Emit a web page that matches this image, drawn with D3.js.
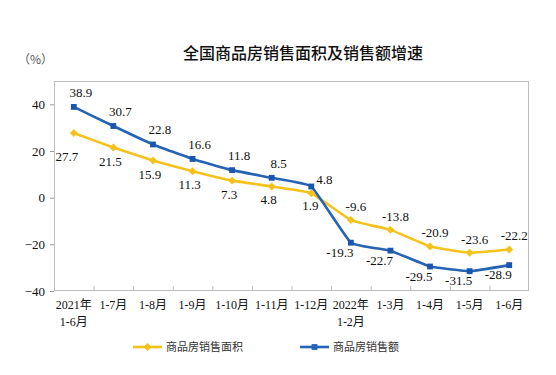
<!DOCTYPE html>
<html>
<head>
<meta charset="utf-8">
<script src="https://cdn.jsdelivr.net/npm/d3@7"></script>
<style>
  body { margin: 0; background: #fff; }
  svg { display: block; }
</style>
</head>
<body>
<script>
const width = 556;
const height = 375;
const margin = { l: 54, r: 27, t: 81, b: 84 };

const months = [
  ["2021年", "1-6月"], ["1-7月"], ["1-8月"], ["1-9月"], ["1-10月"], ["1-11月"],
  ["1-12月"], ["2022年", "1-2月"], ["1-3月"], ["1-4月"], ["1-5月"], ["1-6月"]
];
const areaGrowth = [27.7, 21.5, 15.9, 11.3, 7.3, 4.8, 1.9, -9.6, -13.8, -20.9, -23.6, -22.2];
const salesGrowth = [38.9, 30.7, 22.8, 16.6, 11.8, 8.5, 4.8, -19.3, -22.7, -29.5, -31.5, -28.9];
const yTicks = [-40, -20, 0, 20, 40];
const seriesNames = ["商品房销售面积", "商品房销售额"];

const colors = { area: "#F5C21B", sales: "#2563B3", salesMark: "#1A56B0" };

const svg = d3.select("body").append("svg")
  .attr("width", width)
  .attr("height", height);

const x = d3.scaleBand()
  .domain(d3.range(months.length))
  .range([margin.l, width - margin.r]);
const y = d3.scaleLinear()
  .domain([-40, 50])
  .range([height - margin.b, margin.t]);
const cx = (i) => x(i) + x.bandwidth() / 2;

// title and unit
svg.append("text")
  .attr("x", 303).attr("y", 59)
  .attr("text-anchor", "middle")
  .style("font-family", "'Noto Sans CJK SC'")
  .style("font-size", "16px")
  .style("font-weight", 500)
  .style("fill", "#111")
  .text("全国商品房销售面积及销售额增速");

svg.append("text")
  .attr("x", 18).attr("y", 64)
  .style("font-family", "'Noto Sans CJK SC'")
  .style("font-size", "12px")
  .style("fill", "#555")
  .text("（%）");

// frame
svg.append("rect")
  .attr("x", margin.l + 0.5).attr("y", margin.t + 0.5)
  .attr("width", width - margin.l - margin.r - 1)
  .attr("height", height - margin.t - margin.b - 1)
  .style("fill", "none")
  .style("stroke", "#bdbdbd");

// y axis
const yAxis = svg.append("g")
  .attr("transform", `translate(${margin.l},0)`)
  .call(d3.axisLeft(y).tickValues(yTicks).tickSize(4).tickPadding(5));
yAxis.select(".domain").remove();
yAxis.selectAll("line").style("stroke", "#999");
yAxis.selectAll("text")
  .style("font-family", "'Liberation Serif'")
  .style("font-size", "13px")
  .style("fill", "#111");

// x axis ticks at band boundaries, pointing up
const xTickPos = d3.range(1, months.length).map((i) => x(i));
svg.append("g").selectAll("line")
  .data(xTickPos)
  .join("line")
  .attr("x1", (d) => d + 0.5).attr("x2", (d) => d + 0.5)
  .attr("y1", height - margin.b).attr("y2", height - margin.b - 5)
  .style("stroke", "#bdbdbd");

const xLabels = svg.append("g");
months.forEach((m, i) => {
  const t = xLabels.append("text")
    .attr("text-anchor", "middle")
    .style("font-family", "'Liberation Serif', 'Noto Sans CJK SC'")
    .style("font-size", "12px")
    .style("fill", "#111");
  m.forEach((line, k) => {
    t.append("tspan")
      .attr("x", cx(i))
      .attr("y", height - margin.b + 18 + k * 17)
      .text(line);
  });
});

// lines
const line = d3.line()
  .x((d, i) => cx(i))
  .y((d) => y(d))
  .curve(d3.curveCardinal.tension(0.7));

svg.append("path")
  .datum(areaGrowth)
  .attr("d", line)
  .style("fill", "none")
  .style("stroke", colors.area)
  .style("stroke-width", 2.6);

svg.append("path")
  .datum(salesGrowth)
  .attr("d", line)
  .style("fill", "none")
  .style("stroke", colors.sales)
  .style("stroke-width", 2.6);

// markers
const diamond = d3.symbol().type(d3.symbolDiamond2).size(40);
const square = d3.symbol().type(d3.symbolSquare).size(34);

svg.append("g").selectAll("path")
  .data(areaGrowth)
  .join("path")
  .attr("transform", (d, i) => `translate(${cx(i)},${y(d)})`)
  .attr("d", diamond)
  .style("fill", colors.area);

svg.append("g").selectAll("path")
  .data(salesGrowth)
  .join("path")
  .attr("transform", (d, i) => `translate(${cx(i)},${y(d)})`)
  .attr("d", square)
  .style("fill", colors.salesMark);

// data labels
const labelStyle = (sel) => sel
  .style("font-family", "'Liberation Serif'")
  .style("font-size", "13px")
  .style("fill", "#111")
  .attr("text-anchor", "middle");

// before 2022 the sales line is on top, afterwards the area line is
const salesOffset = (i) => {
  if (i === 6) return [13, -2];
  if (i < 6) return [7, -10];
  return [-11, 14];
};
const areaOffset = (i) => {
  if (i === 0) return [-7, 28];
  if (i === 6) return [-1, 17];
  if (i < 6) return [-3, 18];
  return [5, -9];
};

svg.append("g").selectAll("text")
  .data(salesGrowth)
  .join("text")
  .attr("x", (d, i) => cx(i) + salesOffset(i)[0])
  .attr("y", (d, i) => y(d) + salesOffset(i)[1])
  .call(labelStyle)
  .text((d) => d.toFixed(1));

svg.append("g").selectAll("text")
  .data(areaGrowth)
  .join("text")
  .attr("x", (d, i) => cx(i) + areaOffset(i)[0])
  .attr("y", (d, i) => y(d) + areaOffset(i)[1])
  .call(labelStyle)
  .text((d) => d.toFixed(1));

// legend
const legend = svg.append("g");
const legendItems = [
  { name: seriesNames[0], color: colors.area, mark: diamond, x: 133 },
  { name: seriesNames[1], color: colors.sales, mark: square, x: 300 }
];
legendItems.forEach((it) => {
  const ly = 347;
  legend.append("line")
    .attr("x1", it.x).attr("x2", it.x + 29)
    .attr("y1", ly).attr("y2", ly)
    .style("stroke", it.color)
    .style("stroke-width", 2.6);
  legend.append("path")
    .attr("transform", `translate(${it.x + 14.5},${ly})`)
    .attr("d", it.mark)
    .style("fill", it.color);
  legend.append("text")
    .attr("x", it.x + 33).attr("y", ly + 4)
    .style("font-family", "'Noto Sans CJK SC'")
    .style("font-size", "11px")
    .style("fill", "#333")
    .text(it.name);
});
</script>
</body>
</html>
